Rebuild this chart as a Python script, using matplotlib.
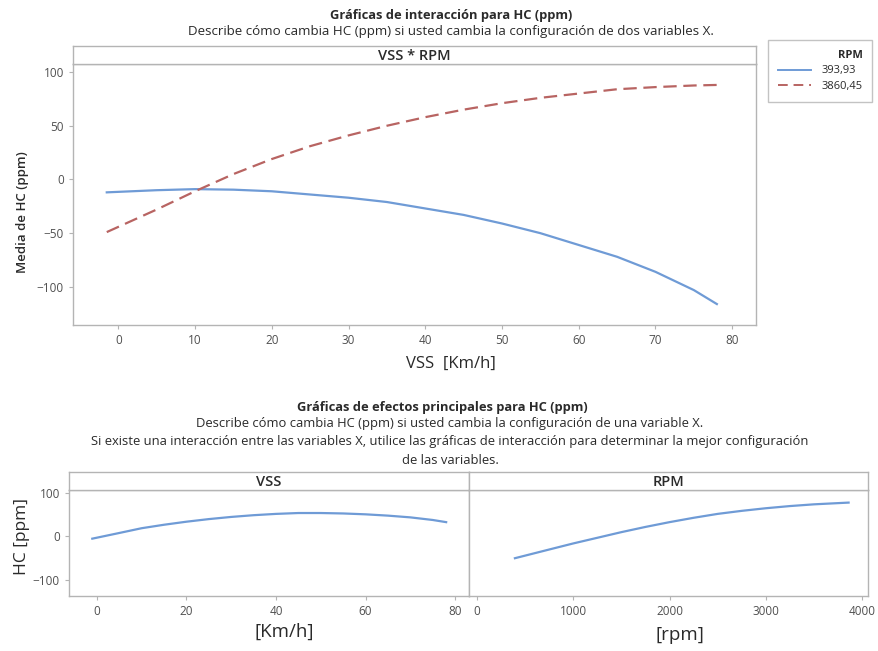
import matplotlib
matplotlib.use("Agg")
import matplotlib.pyplot as plt
from matplotlib.lines import Line2D

plt.rcParams['font.family'] = ['Open Sans', 'DejaVu Sans']

# interaction plot: mean HC vs VSS at the two RPM settings
vss = [-1.5, 5, 10, 15, 20, 25, 30, 35, 40, 45, 50, 55, 60, 65, 70, 75, 78]
hc_rpm_low = [-12, -10, -9, -9.5, -11, -14, -17, -21, -27, -33, -41, -50, -61, -72, -86, -103, -116]
hc_rpm_high = [-49, -28, -11, 5, 19, 31, 41, 50, 58, 65, 71, 76, 80, 84, 86, 87.5, 88]
rpm_levels = ["393,93", "3860,45"]

# main effects
vss_main = [-1, 5, 10, 15, 20, 25, 30, 35, 40, 45, 50, 55, 60, 65, 70, 75, 78]
hc_vss_main = [-5, 8, 19, 27, 34, 40, 45, 49, 52, 54, 54, 53, 51, 48, 44, 38, 33]
rpm_main = [393.93, 750, 1000, 1250, 1500, 1750, 2000, 2250, 2500, 2750, 3000, 3250, 3500, 3860.45]
hc_rpm_main = [-50, -30, -16, -3, 10, 22, 33, 43, 52, 59, 65, 70, 74, 78]

BLUE = "#6f9bd6"
RED = "#b86462"
GREY = "#b4b4b4"
TXT = "#2a2a2a"
TICK = "#505050"

W, H = 879, 651
fig = plt.figure(figsize=(W / 100, H / 100), dpi=100)


def box(x0, y0, x1, y1):
    return [x0 / W, 1 - y1 / H, (x1 - x0) / W, (y1 - y0) / H]


def style(ax):
    for s in ax.spines.values():
        s.set_color(GREY)
        s.set_linewidth(1.0)
    ax.tick_params(colors=GREY, labelcolor=TICK, labelsize=8.5, length=3, width=0.8)


def strip(rect, label):
    sa = fig.add_axes(rect)
    sa.set_xticks([])
    sa.set_yticks([])
    for s in sa.spines.values():
        s.set_color(GREY)
        s.set_linewidth(1.0)
    sa.text(0.5, 0.45, label, ha="center", va="center", fontsize=10.5,
            fontweight="semibold", color=TXT, transform=sa.transAxes)
    return sa


# ---- interaction plot ----
fig.text(0.513, 1 - 15 / H, "Gráficas de interacción para HC (ppm)", ha="center", va="center",
         fontsize=9.3, fontweight="bold", color=TXT)
fig.text(0.513, 1 - 31 / H, "Describe cómo cambia HC (ppm) si usted cambia la configuración de dos variables X.",
         ha="center", va="center", fontsize=9.6, color=TXT)

ax = fig.add_axes(box(73, 64, 756, 325))
ax.plot(vss, hc_rpm_low, color=BLUE, lw=1.6, label=rpm_levels[0])
ax.plot(vss, hc_rpm_high, color=RED, lw=1.6, dashes=(6, 3), label=rpm_levels[1])
ax.set_xlim(-5.9, 83.1)
ax.set_ylim(-135.5, 107.5)
ax.set_xticks(range(0, 81, 10))
ax.set_yticks([-100, -50, 0, 50, 100])
style(ax)
ax.set_ylabel("Media de HC (ppm)", fontsize=9.5, fontweight="semibold", color=TXT)
ax.yaxis.set_label_coords(-0.064, 0.433)
ax.set_xlabel("VSS  [Km/h]", fontsize=12, color=TXT)
ax.xaxis.set_label_coords(0.553, -0.118)
strip(box(73, 46, 756, 64), "VSS * RPM")

handles = [Line2D([], [], color=BLUE, lw=1.4),
           Line2D([], [], color=RED, lw=1.4, dashes=(5, 3))]
leg = fig.legend(handles, rpm_levels, title="RPM", loc="upper left",
                 bbox_to_anchor=(768 / W, 1 - 40 / H), borderaxespad=0,
                 fontsize=8, title_fontsize=8, fancybox=False, frameon=True,
                 handlelength=3.0, alignment="right", borderpad=0.9,
                 labelspacing=0.4, handletextpad=0.9)
leg.get_frame().set_edgecolor(GREY)
leg.get_frame().set_linewidth(1.0)
leg.get_title().set_fontweight("bold")
leg.get_title().set_color(TXT)
for t in leg.get_texts():
    t.set_color(TXT)

# ---- main effects plot ----
fig.text(0.503, 1 - 408 / H, "Gráficas de efectos principales para HC (ppm)", ha="center", va="center",
         fontsize=9.3, fontweight="bold", color=TXT)
fig.text(0.512, 1 - 424 / H, "Describe cómo cambia HC (ppm) si usted cambia la configuración de una variable X.",
         ha="center", va="center", fontsize=9.4, color=TXT)
fig.text(0.512, 1 - 442 / H,
         "Si existe una interacción entre las variables X, utilice las gráficas de interacción para determinar la mejor configuración",
         ha="center", va="center", fontsize=9.4, color=TXT)
fig.text(0.512, 1 - 460 / H, "de las variables.", ha="center", va="center", fontsize=9.4, color=TXT)

ax1 = fig.add_axes(box(69, 490, 469, 596))
ax1.plot(vss_main, hc_vss_main, color=BLUE, lw=1.6)
ax1.set_xlim(-6.2, 83.1)
ax1.set_ylim(-137, 107)
ax1.set_xticks([0, 20, 40, 60, 80])
ax1.set_yticks([-100, 0, 100])
style(ax1)
ax1.set_xlabel("[Km/h]", fontsize=13.5, color=TXT)
ax1.xaxis.set_label_coords(0.5375, -0.25)
ax1.set_ylabel("HC [ppm]", fontsize=12.5, color=TXT)
ax1.yaxis.set_label_coords(-0.0975, 0.557)
strip(box(69, 472, 469, 490), "VSS")

ax2 = fig.add_axes(box(469, 490, 868, 596), sharey=ax1)
ax2.plot(rpm_main, hc_rpm_main, color=BLUE, lw=1.6)
ax2.set_xlim(-83, 4062)
ax2.set_xticks([0, 1000, 2000, 3000, 4000])
style(ax2)
ax2.tick_params(axis="y", left=False, labelleft=False)
ax2.set_xlabel("[rpm]", fontsize=13.5, color=TXT)
ax2.xaxis.set_label_coords(0.529, -0.28)
strip(box(469, 472, 868, 490), "RPM")

fig.savefig("out.png", dpi=100)
